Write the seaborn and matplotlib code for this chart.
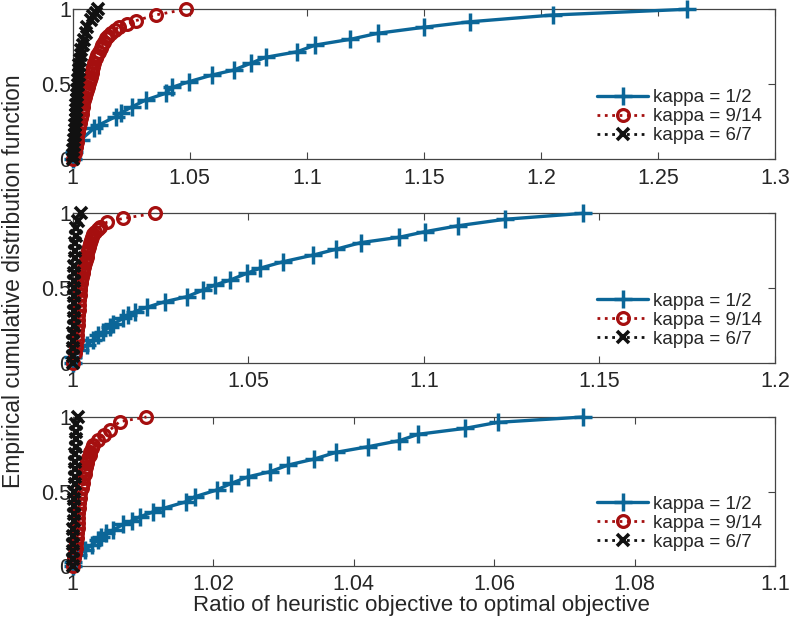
import numpy as np
import pandas as pd
import matplotlib
matplotlib.use("Agg")
import matplotlib.pyplot as plt
import seaborn as sns

# ---------------- data ----------------
labels = ["kappa = 1/2", "kappa = 9/14", "kappa = 6/7"]

# panel 1
p1_half_x = [1.0, 1.0005, 1.0034, 1.0091, 1.0112, 1.0183, 1.0205, 1.0255, 1.0311, 1.0397, 1.0425,
             1.0496, 1.0596, 1.0688, 1.076, 1.0824, 1.0959, 1.1037, 1.1186, 1.1303, 1.1499,
             1.1698, 1.2053, 1.2623]
p1_half_y = [0.0, 0.05, 0.129, 0.207, 0.229, 0.284, 0.309, 0.351, 0.395, 0.44, 0.48,
             0.517, 0.562, 0.595, 0.64, 0.68, 0.717, 0.762, 0.8, 0.84, 0.88,
             0.917, 0.962, 1.0]
p1_nine_x = [1.0, 1.0008, 1.0013, 1.0017, 1.002, 1.0024, 1.0027, 1.0031, 1.0034, 1.0038, 1.0041,
             1.0044, 1.0046, 1.0049, 1.0051, 1.0056, 1.006, 1.0065, 1.007, 1.0074, 1.0077,
             1.0081, 1.0084, 1.0088, 1.0091, 1.0098, 1.0105, 1.0112, 1.0120, 1.0127, 1.0134,
             1.0141, 1.0152, 1.0162, 1.0180, 1.0198, 1.0230, 1.0269, 1.0354, 1.0482]
p1_nine_y = [0.0, 0.045, 0.084, 0.118, 0.151, 0.184, 0.217, 0.245, 0.273, 0.301, 0.329,
             0.351, 0.373, 0.395, 0.417, 0.44, 0.462, 0.485, 0.507, 0.529, 0.551,
             0.573, 0.595, 0.618, 0.64, 0.673, 0.695, 0.717, 0.74, 0.762, 0.785,
             0.807, 0.823, 0.84, 0.862, 0.884, 0.904, 0.924, 0.962, 1.0]
p1_six_x = [1.0, 1.0002, 1.0003, 1.0005, 1.0006, 1.0008, 1.0009, 1.0011, 1.0012, 1.0013, 1.0015,
            1.0016, 1.0017, 1.0019, 1.002, 1.0022, 1.0023, 1.0025, 1.0027, 1.0029, 1.0031,
            1.0034, 1.0037, 1.0042, 1.0048, 1.0055, 1.0063, 1.0077, 1.0088, 1.0098, 1.0108]
p1_six_y = [0.0, 0.031, 0.062, 0.096, 0.129, 0.162, 0.195, 0.229, 0.262, 0.295, 0.329,
            0.362, 0.395, 0.429, 0.462, 0.495, 0.529, 0.562, 0.595, 0.629, 0.662,
            0.695, 0.729, 0.762, 0.795, 0.84, 0.88, 0.93, 0.955, 0.978, 1.0]

# panel 2
p2_half_x = [1.0, 1.0002, 1.0021, 1.004, 1.0059, 1.0073, 1.0087, 1.0106, 1.0116, 1.0144, 1.0158,
             1.0177, 1.0211, 1.0263, 1.0325, 1.0372, 1.0405, 1.0448, 1.0496, 1.0533, 1.06,
             1.0685, 1.075, 1.082, 1.093, 1.1003, 1.1098, 1.1231, 1.1454]
p2_half_y = [0.0, 0.042, 0.087, 0.12, 0.154, 0.187, 0.209, 0.242, 0.261, 0.299, 0.321,
             0.343, 0.372, 0.41, 0.443, 0.488, 0.521, 0.554, 0.599, 0.633, 0.677,
             0.721, 0.76, 0.804, 0.84, 0.877, 0.917, 0.96, 1.0]
p2_nine_x = [1.0, 1.0007, 1.0009, 1.0011, 1.0012, 1.0013, 1.0014, 1.0015, 1.0016, 1.0017, 1.0018,
             1.0019, 1.002, 1.0021, 1.0022, 1.0023, 1.0025, 1.0026, 1.0028, 1.003, 1.0032,
             1.0035, 1.0037, 1.004, 1.0042, 1.0044, 1.0047, 1.0049, 1.0052, 1.0054, 1.0059,
             1.0064, 1.0071, 1.0078, 1.0097, 1.0144, 1.0234]
p2_nine_y = [0.0, 0.065, 0.11, 0.154, 0.187, 0.22, 0.254, 0.287, 0.32, 0.354, 0.387,
             0.421, 0.455, 0.488, 0.51, 0.532, 0.554, 0.576, 0.598, 0.621, 0.643,
             0.666, 0.688, 0.71, 0.733, 0.755, 0.777, 0.799, 0.822, 0.844, 0.86,
             0.877, 0.894, 0.911, 0.94, 0.966, 1.0]
p2_six_x = [1.0, 1.0001, 1.0001, 1.0002, 1.0002, 1.0003, 1.0003, 1.0003, 1.0004, 1.0004, 1.0004,
            1.0005, 1.0005, 1.0005, 1.0006, 1.0006, 1.0007, 1.0008, 1.001, 1.0014, 1.0023]
p2_six_y = [0.0, 0.05, 0.1, 0.15, 0.2, 0.25, 0.3, 0.35, 0.4, 0.45, 0.5,
            0.55, 0.6, 0.65, 0.7, 0.75, 0.8, 0.85, 0.9, 0.95, 1.0]

# panel 3
p3_half_x = [1.0, 1.0001, 1.0008, 1.0018, 1.0027, 1.0036, 1.0041, 1.0048, 1.0058, 1.0072, 1.0084,
             1.0096, 1.0115, 1.0129, 1.0162, 1.0174, 1.0205, 1.0226, 1.025, 1.0281, 1.0307,
             1.0344, 1.0375, 1.0421, 1.0465, 1.0492, 1.0559, 1.0605, 1.0727]
p3_half_y = [0.0, 0.029, 0.074, 0.107, 0.141, 0.174, 0.197, 0.219, 0.242, 0.28, 0.302,
             0.331, 0.364, 0.387, 0.432, 0.465, 0.51, 0.555, 0.599, 0.633, 0.678,
             0.718, 0.763, 0.801, 0.841, 0.884, 0.924, 0.964, 1.0]
p3_nine_x = [1.0, 1.0002, 1.0003, 1.0004, 1.0005, 1.0006, 1.0006, 1.0007, 1.0007, 1.0008, 1.0008,
             1.0009, 1.0009, 1.001, 1.0011, 1.0013, 1.0014, 1.0015, 1.0017, 1.0018, 1.0019,
             1.002, 1.0021, 1.0022, 1.0024, 1.0025, 1.0027, 1.0029, 1.0036, 1.0044, 1.0053,
             1.0067, 1.0105]
p3_nine_y = [0.0, 0.052, 0.085, 0.119, 0.152, 0.186, 0.22, 0.253, 0.286, 0.32, 0.354,
             0.387, 0.42, 0.454, 0.488, 0.521, 0.555, 0.588, 0.616, 0.644, 0.666,
             0.689, 0.705, 0.722, 0.745, 0.767, 0.79, 0.812, 0.846, 0.879, 0.913,
             0.969, 1.0]
p3_six_x = [1.0, 1.0, 1.0001, 1.0001, 1.0001, 1.0001, 1.0002, 1.0002, 1.0002, 1.0002, 1.0002,
            1.0003, 1.0003, 1.0003, 1.0003, 1.0003, 1.0004, 1.0004, 1.0004, 1.0005, 1.0008]
p3_six_y = [0.0, 0.05, 0.1, 0.15, 0.2, 0.25, 0.3, 0.35, 0.4, 0.45, 0.5,
            0.55, 0.6, 0.65, 0.7, 0.75, 0.8, 0.85, 0.9, 0.95, 1.0]

x_limits = [(1.0, 1.3), (1.0, 1.2), (1.0, 1.1)]
x_ticks = [[1.0, 1.05, 1.1, 1.15, 1.2, 1.25, 1.3],
           [1.0, 1.05, 1.1, 1.15, 1.2],
           [1.0, 1.02, 1.04, 1.06, 1.08, 1.1]]
x_ticklabels = [["1", "1.05", "1.1", "1.15", "1.2", "1.25", "1.3"],
                ["1", "1.05", "1.1", "1.15", "1.2"],
                ["1", "1.02", "1.04", "1.06", "1.08", "1.1"]]
y_ticks = [0, 0.5, 1]
y_ticklabels = ["0", "0.5", "1"]

panels = [
    [(p1_half_x, p1_half_y), (p1_nine_x, p1_nine_y), (p1_six_x, p1_six_y)],
    [(p2_half_x, p2_half_y), (p2_nine_x, p2_nine_y), (p2_six_x, p2_six_y)],
    [(p3_half_x, p3_half_y), (p3_nine_x, p3_nine_y), (p3_six_x, p3_six_y)],
]

# ---------------- styling ----------------
sns.set_style("ticks")
plt.rcParams["font.family"] = ["Liberation Sans", "DejaVu Sans"]
plt.rcParams["xtick.direction"] = "in"
plt.rcParams["ytick.direction"] = "in"

colors = ["#0b6698", "#a50f0f", "#111111"]
markers = ["+", "o", "x"]
linestyles = ["-", ":", ":"]
linewidths = [2.4, 2.0, 2.0]
msizes = [12.5, 8.5, 8.5]
mews = [2.5, 2.3, 2.6]

fig = plt.figure(figsize=(7.93, 6.24), dpi=100)
W, H = 793.0, 624.0
ax_px = [(9.3, 159.3), (213.3, 363.0), (417.0, 566.0)]
left_px, right_px = 72.7, 775.0

for i, (top, bot) in enumerate(ax_px):
    ax = fig.add_axes([left_px / W, 1 - bot / H, (right_px - left_px) / W, (bot - top) / H])
    for j, (xs, ys) in enumerate(panels[i]):
        df = pd.DataFrame({"x": xs, "y": ys})
        sns.lineplot(data=df, x="x", y="y", ax=ax, sort=False, estimator=None,
                     color=colors[j], linestyle=linestyles[j], linewidth=linewidths[j],
                     marker=markers[j], markersize=msizes[j], markeredgewidth=mews[j],
                     markeredgecolor=colors[j],
                     markerfacecolor="none" if markers[j] == "o" else colors[j],
                     label=labels[j], clip_on=False, zorder=3 + j)
    ax.set_xlim(*x_limits[i])
    ax.set_ylim(0, 1)
    ax.set_xticks(x_ticks[i])
    ax.set_xticklabels(x_ticklabels[i], fontsize=15.5)
    ax.set_yticks(y_ticks)
    ax.set_yticklabels(y_ticklabels, fontsize=15.5)
    ax.tick_params(axis="both", which="both", top=True, right=True, length=5,
                   width=0.8, color="#444444", pad=1)
    ax.tick_params(axis="x", pad=6)
    for s in ax.spines.values():
        s.set_visible(True)
        s.set_color("#444444")
        s.set_linewidth(0.9)
    ax.set_xlabel("")
    ax.set_ylabel("")
    leg = ax.legend(loc="lower right", bbox_to_anchor=(0.998, 0.025), frameon=False,
                    fontsize=13.5, handlelength=2.7, handletextpad=0.3,
                    labelspacing=0.1, borderaxespad=0.2)

fig.text(14 / W, 1 - 281 / H, "Empirical cumulative distribution function",
         rotation=90, ha="center", va="center", fontsize=16.5)
fig.text(421 / W, 1 - 606 / H, "Ratio of heuristic objective to optimal objective",
         ha="center", va="center", fontsize=16)

fig.savefig("out.png", dpi=100)
